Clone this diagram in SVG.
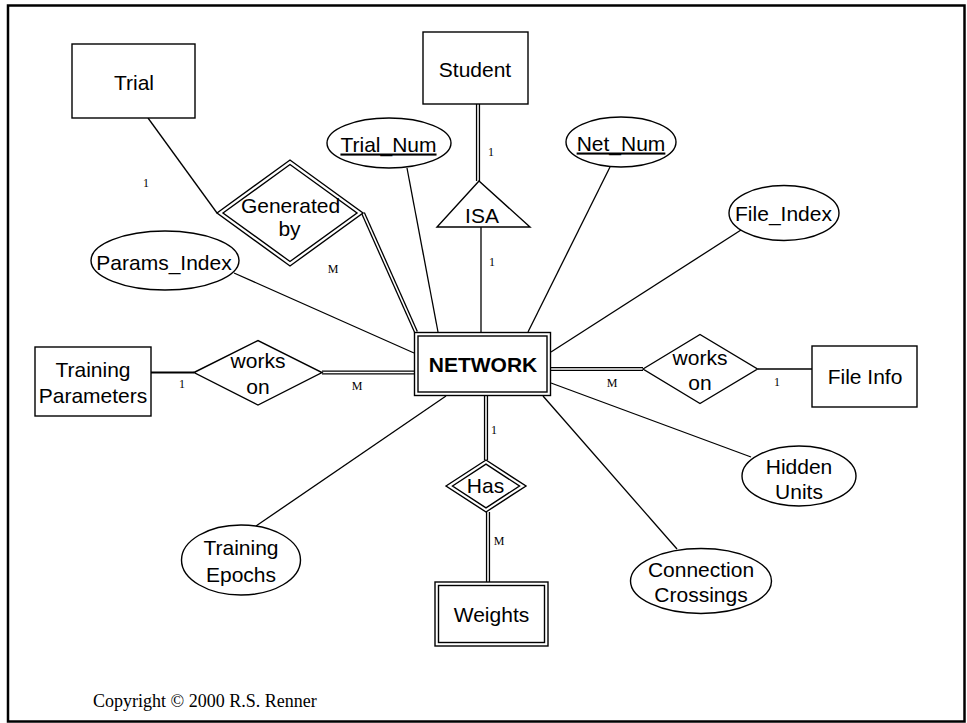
<svg xmlns="http://www.w3.org/2000/svg" width="967" height="723" viewBox="0 0 967 723">
<style>
  .shape { fill: #fff; stroke: #000; stroke-width: 1.4; }
  .line { fill: none; stroke: #000; stroke-width: 1.3; }
  .thick { fill: none; stroke: #000; stroke-width: 2.2; }
  .dblo { fill: none; stroke: #000; stroke-width: 4.2; }
  .dbli { fill: none; stroke: #fff; stroke-width: 1.6; }
  .t { font-family: "Liberation Sans", Arial, sans-serif; font-size: 21px; fill: #000; text-anchor: middle; }
  .b { font-weight: bold; }
  .u { text-decoration: underline; }
  .lbl { font-family: "Liberation Serif", "Times New Roman", serif; font-size: 12px; fill: #000; text-anchor: middle; }
  .copy { font-family: "Liberation Serif", "Times New Roman", serif; font-size: 18px; fill: #000; }
</style>
<rect x="0" y="0" width="967" height="723" fill="#fff"/>
<rect x="8" y="5.5" width="956.5" height="716" fill="none" stroke="#000" stroke-width="2.5"/>

<g id="connectors">
  <line class="line" x1="148" y1="118" x2="217" y2="213"/>
  <line class="line" x1="481" y1="227" x2="481" y2="332"/>
  <line class="line" x1="407" y1="168" x2="438" y2="332"/>
  <line class="line" x1="610" y1="167" x2="528" y2="332"/>
  <line class="line" x1="741" y1="230" x2="551" y2="352"/>
  <line class="line" x1="234" y1="273" x2="414" y2="353"/>
  <line class="thick" x1="151" y1="372.5" x2="194" y2="372.5"/>
  <line class="line" x1="758" y1="369" x2="816" y2="369"/>
  <line class="line" x1="551" y1="383" x2="751" y2="457"/>
  <line class="line" x1="543" y1="396" x2="677" y2="549"/>
  <line class="line" x1="446" y1="396" x2="256" y2="526"/>
  <g>
    <path class="dblo" d="M363,213 L416,332"/>
    <path class="dbli" d="M363,213 L416,332"/>
    <path class="dblo" d="M478,104 L478,181"/>
    <path class="dbli" d="M478,104 L478,181"/>
    <path class="dblo" d="M322,372.5 L414,372.5"/>
    <path class="dbli" d="M322,372.5 L414,372.5"/>
    <path class="dblo" d="M551,369 L643,369"/>
    <path class="dbli" d="M551,369 L643,369"/>
    <path class="dblo" d="M486,396 L486,460"/>
    <path class="dbli" d="M486,396 L486,460"/>
    <path class="dblo" d="M488,512 L488,582"/>
    <path class="dbli" d="M488,512 L488,582"/>
  </g>
  <text class="lbl" x="146" y="187">1</text>
  <text class="lbl" x="333" y="273">M</text>
  <text class="lbl" x="491" y="156">1</text>
  <text class="lbl" x="492" y="266">1</text>
  <text class="lbl" x="182" y="388">1</text>
  <text class="lbl" x="357" y="390">M</text>
  <text class="lbl" x="612" y="387">M</text>
  <text class="lbl" x="777" y="386">1</text>
  <text class="lbl" x="494" y="434">1</text>
  <text class="lbl" x="499" y="545">M</text>
</g>

<g id="trial">
  <rect class="shape" x="72" y="44" width="123" height="74"/>
  <text class="t" x="134" y="90">Trial</text>
</g>
<g id="student">
  <rect class="shape" x="423" y="32" width="105" height="72"/>
  <text class="t" x="475" y="77">Student</text>
</g>
<g id="isa">
  <polygon class="shape" points="479,181 437,227 530,227"/>
  <text class="t" x="482" y="223">ISA</text>
</g>
<g id="trial-num">
  <ellipse class="shape" cx="389" cy="143" rx="62" ry="25"/>
  <text class="t u" x="388.5" y="151.5">Trial_Num</text>
</g>
<g id="net-num">
  <ellipse class="shape" cx="621" cy="142" rx="55" ry="25"/>
  <text class="t u" x="621" y="150.5">Net_Num</text>
</g>
<g id="file-index">
  <ellipse class="shape" cx="784" cy="213" rx="55" ry="27.5"/>
  <text class="t" x="783.5" y="221">File_Index</text>
</g>
<g id="generated-by">
  <polygon class="shape" points="217,213 290,160 363,213 290,266"/>
  <polygon class="shape" points="223,213 290,164.5 357,213 290,261.5"/>
  <text class="t" x="290.5" y="213" font-size="20">Generated</text>
  <text class="t" x="289.5" y="236" font-size="20">by</text>
</g>
<g id="params-index">
  <ellipse class="shape" cx="165" cy="260.5" rx="74" ry="29.5"/>
  <text class="t" x="164" y="269.5">Params_Index</text>
</g>
<g id="training-parameters">
  <rect class="shape" x="35" y="347" width="116" height="69"/>
  <text class="t" x="93" y="376.5">Training</text>
  <text class="t" x="93" y="403">Parameters</text>
</g>
<g id="works-on-left">
  <polygon class="shape" points="194,372.5 258,340.5 322,372.5 258,405"/>
  <text class="t" x="258" y="368">works</text>
  <text class="t" x="258" y="393.5">on</text>
</g>
<g id="network">
  <rect class="shape" x="414.5" y="332.5" width="136" height="63" stroke-width="1.8"/>
  <rect class="shape" x="418" y="336" width="129" height="56"/>
  <text class="t b" x="483" y="372">NETWORK</text>
</g>
<g id="works-on-right">
  <polygon class="shape" points="643,369 700,334.5 757.5,369 700,403.5"/>
  <text class="t" x="700" y="365">works</text>
  <text class="t" x="700" y="390">on</text>
</g>
<g id="file-info">
  <rect class="shape" x="812" y="346" width="105" height="61"/>
  <text class="t" x="865" y="384">File Info</text>
</g>
<g id="has">
  <polygon class="shape" points="446,486 486,460 526,486 486,512"/>
  <polygon class="shape" points="452.5,486 486,464.2 519.5,486 486,507.8"/>
  <text class="t" x="485.5" y="493">Has</text>
</g>
<g id="weights">
  <rect class="shape" x="435" y="582" width="113" height="64"/>
  <rect class="shape" x="438.5" y="585.5" width="106" height="57"/>
  <text class="t" x="491.5" y="622">Weights</text>
</g>
<g id="hidden-units">
  <ellipse class="shape" cx="799" cy="476" rx="57" ry="30"/>
  <text class="t" x="799" y="473.5">Hidden</text>
  <text class="t" x="799" y="498.5">Units</text>
</g>
<g id="connection-crossings">
  <ellipse class="shape" cx="701" cy="581" rx="70.5" ry="32.5"/>
  <text class="t" x="701" y="577">Connection</text>
  <text class="t" x="701" y="602">Crossings</text>
</g>
<g id="training-epochs">
  <ellipse class="shape" cx="241" cy="560" rx="59.5" ry="35"/>
  <text class="t" x="241" y="555">Training</text>
  <text class="t" x="241" y="581.5">Epochs</text>
</g>
<text class="copy" x="93" y="707">Copyright © 2000 R.S. Renner</text>
</svg>
